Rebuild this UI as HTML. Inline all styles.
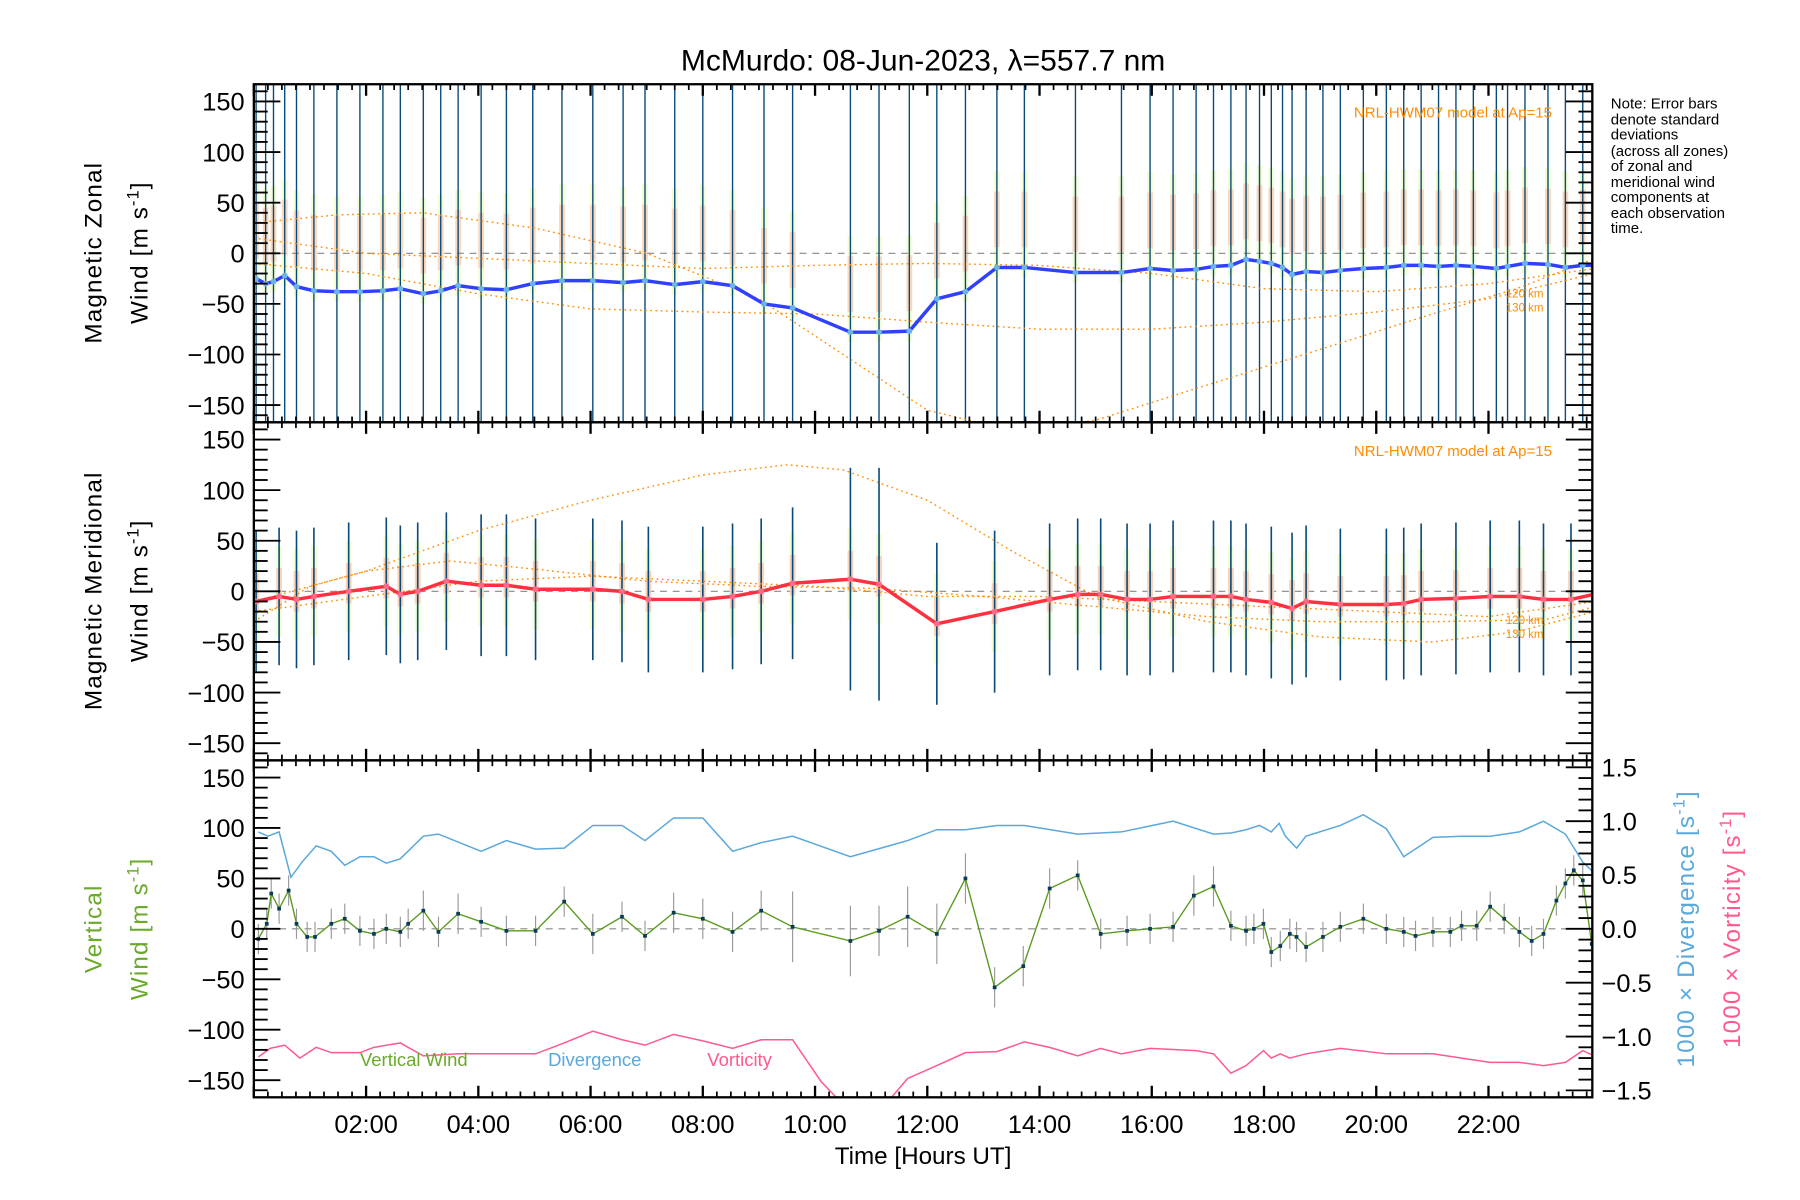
<!DOCTYPE html>
<html><head><meta charset="utf-8"><style>
html,body{margin:0;padding:0;background:#fff;width:1800px;height:1200px;overflow:hidden}
svg text{font-family:"Liberation Sans",sans-serif}
</style></head><body>
<svg id="chart" width="1800" height="1200" viewBox="0 0 1560 1040" preserveAspectRatio="none" xmlns="http://www.w3.org/2000/svg">
<rect width="1560" height="1040" fill="#fff"/>
<text x="800" y="61" font-size="26" text-anchor="middle">McMurdo: 08-Jun-2023, λ=557.7 nm</text>
<g id="g"></g>
<text transform="translate(88,219) rotate(-90)" font-size="21" text-anchor="middle" letter-spacing="1">Magnetic Zonal</text>
<text transform="translate(128,219) rotate(-90)" font-size="21" text-anchor="middle" letter-spacing="1">Wind [m s<tspan font-size="14" dy="-8">-1</tspan><tspan dy="8">]</tspan></text>
<text transform="translate(88,512) rotate(-90)" font-size="21" text-anchor="middle" letter-spacing="1">Magnetic Meridional</text>
<text transform="translate(128,512) rotate(-90)" font-size="21" text-anchor="middle" letter-spacing="1">Wind [m s<tspan font-size="14" dy="-8">-1</tspan><tspan dy="8">]</tspan></text>
<text transform="translate(88,805) rotate(-90)" font-size="21" text-anchor="middle" fill="#6aaa2a" letter-spacing="1">Vertical</text>
<text transform="translate(128,805) rotate(-90)" font-size="21" text-anchor="middle" fill="#6aaa2a" letter-spacing="1">Wind [m s<tspan font-size="14" dy="-8">-1</tspan><tspan dy="8">]</tspan></text>
<text transform="translate(1468,805) rotate(-90)" font-size="21" text-anchor="middle" fill="#5aa8dc" letter-spacing="1">1000 × Divergence [s<tspan font-size="14" dy="-8">-1</tspan><tspan dy="8">]</tspan></text>
<text transform="translate(1508,805) rotate(-90)" font-size="21" text-anchor="middle" fill="#ff5a8c" letter-spacing="1">1000 × Vorticity [s<tspan font-size="14" dy="-8">-1</tspan><tspan dy="8">]</tspan></text>
<text x="800" y="1009" font-size="21" text-anchor="middle">Time [Hours UT]</text>
<g font-size="13">
<text x="1396" y="94">Note: Error bars</text><text x="1396" y="108">denote standard</text><text x="1396" y="121">deviations</text><text x="1396" y="135">(across all zones)</text><text x="1396" y="148">of zonal and</text><text x="1396" y="162">meridional wind</text><text x="1396" y="175">components at</text><text x="1396" y="189">each observation</text><text x="1396" y="202">time.</text>
</g>
<text x="1345" y="102" font-size="13" fill="#ff8c00" text-anchor="end">NRL-HWM07 model at Ap=15</text>
<text x="1345" y="395" font-size="13" fill="#ff8c00" text-anchor="end">NRL-HWM07 model at Ap=15</text>
<text x="1305" y="258" font-size="10" fill="#ff8c00">120 km</text>
<text x="1305" y="270" font-size="10" fill="#ff8c00">130 km</text>
<text x="1305" y="541" font-size="10" fill="#ff8c00">120 km</text>
<text x="1305" y="553" font-size="10" fill="#ff8c00">130 km</text>
<text x="312" y="924" font-size="16" fill="#6aaa2a">Vertical Wind</text>
<text x="475" y="924" font-size="16" fill="#5aa8dc">Divergence</text>
<text x="613" y="924" font-size="16" fill="#ff5a8c">Vorticity</text>
</svg>
<script>
const zonalTimes=[0.04,0.21,0.35,0.55,0.76,1.07,1.48,1.89,2.30,2.61,3.02,3.33,3.64,4.05,4.50,4.97,5.49,6.04,6.58,6.97,7.50,8.00,8.53,9.09,9.60,10.63,11.14,11.68,12.17,12.68,13.24,13.73,14.64,15.46,15.97,16.38,16.79,17.10,17.41,17.68,17.92,18.13,18.33,18.50,18.75,19.05,19.36,19.77,20.18,20.49,20.80,21.11,21.42,21.73,22.14,22.34,22.65,23.06,23.37,23.68,23.88];
const zonalWind=[-25,-30,-28,-22,-33,-37,-38,-38,-37,-35,-40,-37,-32,-35,-36,-30,-27,-27,-29,-27,-31,-28,-32,-50,-54,-78,-78,-77,-45,-38,-14,-14,-19,-19,-15,-17,-16,-13,-12,-6,-8,-10,-14,-21,-18,-19,-17,-15,-14,-12,-12,-13,-12,-13,-15,-13,-10,-11,-14,-12,-12];
const zonalErr=[300,300,300,300,300,300,300,300,300,300,300,300,300,300,300,300,300,300,300,300,300,300,300,300,300,300,300,300,300,300,300,300,300,300,300,300,300,300,300,300,300,300,300,300,300,300,300,300,300,300,300,300,300,300,300,300,300,300,300,300,300];
const merTimes=[0.04,0.45,0.76,1.07,1.69,2.36,2.61,2.92,3.43,4.05,4.50,5.02,6.04,6.56,7.03,8.00,8.53,9.04,9.60,10.63,11.14,12.17,13.20,14.18,14.68,15.09,15.56,15.97,16.38,17.10,17.41,17.68,18.13,18.50,18.75,19.36,20.18,20.49,20.80,21.42,22.03,22.55,22.98,23.47,23.88];
const merWind=[-10,-5,-8,-5,0,5,-3,0,10,6,6,2,2,0,-8,-8,-5,0,8,12,7,-32,-20,-8,-3,-3,-8,-8,-5,-5,-5,-8,-11,-17,-10,-13,-13,-12,-8,-7,-5,-5,-8,-8,-3];
const merErr=[70,68,68,68,68,68,68,68,68,70,70,70,70,70,72,72,72,72,75,110,115,80,80,75,75,75,75,75,75,75,75,75,75,75,75,75,75,75,75,75,75,75,75,75,75];
const vertTimes=[0.08,0.23,0.31,0.45,0.62,0.76,0.95,1.09,1.38,1.62,1.89,2.14,2.36,2.61,2.75,3.02,3.29,3.64,4.05,4.50,5.02,5.53,6.04,6.56,6.97,7.48,8.00,8.53,9.04,9.60,10.63,11.14,11.65,12.17,12.68,13.20,13.71,14.18,14.68,15.09,15.56,15.97,16.38,16.75,17.10,17.41,17.68,17.82,17.99,18.13,18.29,18.46,18.58,18.75,19.05,19.36,19.77,20.18,20.49,20.70,21.01,21.32,21.52,21.79,22.03,22.28,22.55,22.77,22.98,23.21,23.37,23.52,23.68,23.84];
const vertWind=[-10,5,35,20,38,5,-8,-8,5,10,-2,-5,0,-3,5,18,-3,15,7,-2,-2,27,-5,12,-7,16,10,-3,18,2,-12,-2,12,-5,50,-58,-37,40,53,-5,-2,0,2,33,42,3,-2,0,5,-23,-17,-5,-8,-18,-8,2,10,0,-3,-7,-3,-3,3,3,22,10,-3,-12,-5,28,45,58,48,-15];
const vertErr=[15,15,15,15,15,15,15,15,15,15,15,15,15,15,15,20,15,20,15,15,15,15,20,15,15,20,20,20,20,35,35,25,30,30,25,20,20,20,15,15,15,15,15,20,20,15,15,15,15,15,15,15,15,15,15,15,15,15,15,15,15,15,15,15,15,15,15,15,15,15,15,15,15,15];
const divTimes=[0.08,0.25,0.45,0.66,0.86,1.11,1.38,1.62,1.89,2.14,2.36,2.61,3.02,3.29,4.05,4.50,5.02,5.53,6.04,6.56,6.97,7.48,8.00,8.53,9.04,9.60,10.63,11.65,12.17,12.68,13.24,13.73,14.68,15.46,16.38,17.10,17.41,17.68,17.92,18.13,18.27,18.38,18.58,18.75,19.36,19.77,20.18,20.49,21.01,21.52,22.03,22.55,22.98,23.37,23.68,23.88];
const divergence=[0.90,0.86,0.90,0.48,0.62,0.77,0.72,0.59,0.67,0.67,0.61,0.65,0.86,0.88,0.72,0.82,0.74,0.75,0.96,0.96,0.82,1.03,1.03,0.72,0.80,0.86,0.67,0.82,0.92,0.92,0.96,0.96,0.88,0.90,1.00,0.88,0.89,0.92,0.96,0.90,0.98,0.86,0.75,0.86,0.96,1.06,0.93,0.67,0.85,0.86,0.86,0.90,1.00,0.88,0.62,0.52];
const vorTimes=[0.08,0.29,0.55,0.82,1.11,1.38,1.89,2.14,2.61,3.02,3.64,4.50,5.02,5.53,6.04,6.56,6.97,7.48,8.00,8.53,9.04,9.60,10.11,10.63,11.14,11.65,12.17,12.68,13.24,13.73,14.18,14.68,15.09,15.46,15.97,16.79,17.10,17.41,17.68,17.99,18.13,18.29,18.46,18.75,19.36,20.18,21.01,21.52,22.03,22.55,22.98,23.37,23.68,23.88];
const vorticity=[-1.19,-1.11,-1.08,-1.20,-1.10,-1.15,-1.15,-1.10,-1.06,-1.18,-1.16,-1.16,-1.16,-1.06,-0.95,-1.03,-1.08,-0.98,-1.04,-1.11,-1.03,-1.03,-1.42,-1.70,-1.70,-1.39,-1.27,-1.15,-1.14,-1.05,-1.10,-1.18,-1.11,-1.16,-1.11,-1.13,-1.16,-1.34,-1.27,-1.13,-1.20,-1.16,-1.20,-1.16,-1.11,-1.16,-1.16,-1.20,-1.24,-1.24,-1.27,-1.24,-1.13,-1.18];
const modelTimesZ=[0,2,4,6,8,10,12,14,16,18,20,22,23.9];
const zonalModelA=[-10,-20,-40,-55,-58,-60,-68,-75,-75,-68,-58,-45,-20];
const zonalModelC=[15,0,-5,-10,-15,-12,-10,-12,-20,-35,-38,-30,-15];
const zonalModelBTimes=[0,1.5,3,5,7,9,10.5,12,13.5,15,17,19,21,22.5,23.9];
const zonalModelB=[30,38,40,25,0,-45,-100,-155,-175,-165,-130,-95,-60,-35,-5];
const merModelATimes=[0,2,4,6,8,9.5,10.5,12,13.5,15,17,19,21,22.5,23.9];
const merModelA=[-10,20,60,90,115,125,120,90,40,-5,-30,-45,-50,-40,-20];
const merModelBTimes=[0,1,2,3.5,5,7,9,11,13,15,17,19,21,23,23.9];
const merModelB=[-30,5,20,30,22,10,5,3,-5,-15,-25,-30,-30,-28,-15];
const merModelC=[-20,-5,10,15,10,5,-5,-5,-10,-15,-20,-25,-10];
const xTickLabels=["02:00","04:00","06:00","08:00","10:00","12:00","14:00","16:00","18:00","20:00","22:00"];
const yTickValues=[-150,-100,-50,0,50,100,150];
const rightTickValues=[-1.5,-1.0,-0.5,0.0,0.5,1.0,1.5];

const NS="http://www.w3.org/2000/svg";
const G=document.getElementById('g');
const XL=220,XR=1380,X0=0,X1=23.85;
const x=h=>XL+(h-X0)/(X1-X0)*(XR-XL);
const P=[{t:73,b:366},{t:366,b:659},{t:659,b:951}];
const YMAX=167;
const yS=(p,v)=>{const m=(P[p].t+P[p].b)/2;return m-v/YMAX*(P[p].b-P[p].t)/2;};
const RMAX=1.5*146/140;
const yR=v=>{const m=(P[2].t+P[2].b)/2;return m-v/RMAX*(P[2].b-P[2].t)/2;};
function mk(tag,attrs,parent){const e=document.createElementNS(NS,tag);for(const k in attrs)e.setAttribute(k,attrs[k]);(parent||G).appendChild(e);return e;}
function pts(ts,vs,f){return ts.map((t,i)=>x(t).toFixed(1)+','+f(vs[i]).toFixed(1)).join(' ');}
const defs=mk('defs',{});
P.forEach((p,i)=>{const c=mk('clipPath',{id:'c'+i},defs);mk('rect',{x:XL,y:p.t,width:XR-XL,height:p.b-p.t},c);});

// panel 1 zonal
let g1=mk('g',{'clip-path':'url(#c0)'});


zonalTimes.forEach((t,i)=>{
const r0=mk('rect',{x:x(t)-2.5,y:yS(0,zonalWind[i]+95),width:5,height:yS(0,zonalWind[i]-10)-yS(0,zonalWind[i]+95),fill:'#eefcc8',opacity:0.8},g1);


const r=mk('rect',{x:x(t)-2.5,y:yS(0,zonalWind[i]+75),width:5,height:yS(0,zonalWind[i]+20)-yS(0,zonalWind[i]+75),fill:'#ffc0b0',opacity:0.6},g1);

});
mk('line',{x1:XL,x2:XR,y1:yS(0,0),y2:yS(0,0),stroke:'#888','stroke-dasharray':'6,5','stroke-width':1},g1);
zonalTimes.forEach((t,i)=>{const l=mk('line',{x1:x(t),x2:x(t),y1:yS(0,zonalWind[i]+zonalErr[i]),y2:yS(0,zonalWind[i]-zonalErr[i]),stroke:'#0a4a7a','stroke-width':1.2},g1);

});
[[modelTimesZ,zonalModelA],[zonalModelBTimes,zonalModelB],[modelTimesZ,zonalModelC]].forEach(([ts,vs])=>{const l=mk('polyline',{points:pts(ts,vs,v=>yS(0,v)),fill:'none',stroke:'#ff8c00','stroke-width':1.2,'stroke-dasharray':'1.5,3'},g1);

});
let zl=mk('polyline',{points:pts(zonalTimes,zonalWind,v=>yS(0,v)),fill:'none',stroke:'#3040ff','stroke-width':3},g1);


zonalTimes.forEach((t,i)=>{const c=mk('circle',{cx:x(t),cy:yS(0,zonalWind[i]),r:2.5,fill:'#6ab4e8'},g1);

});

// panel 2 meridional
let g2=mk('g',{'clip-path':'url(#c1)'});


mk('line',{x1:XL,x2:XR,y1:yS(1,0),y2:yS(1,0),stroke:'#888','stroke-dasharray':'6,5','stroke-width':1},g2);
merTimes.forEach((t,i)=>{
const r0=mk('rect',{x:x(t)-2.5,y:yS(1,merWind[i]+50),width:5,height:yS(1,merWind[i]-40)-yS(1,merWind[i]+50),fill:'#eefcc8',opacity:0.8},g2);


const r=mk('rect',{x:x(t)-2.5,y:yS(1,merWind[i]+28),width:5,height:yS(1,merWind[i]-12)-yS(1,merWind[i]+28),fill:'#ffb8a8',opacity:0.6},g2);


const l=mk('line',{x1:x(t),x2:x(t),y1:yS(1,merWind[i]+merErr[i]),y2:yS(1,merWind[i]-merErr[i]),stroke:'#0a4a7a','stroke-width':1.4},g2);

});
[[merModelATimes,merModelA],[merModelBTimes,merModelB],[modelTimesZ,merModelC]].forEach(([ts,vs])=>{const l=mk('polyline',{points:pts(ts,vs,v=>yS(1,v)),fill:'none',stroke:'#ff8c00','stroke-width':1.2,'stroke-dasharray':'1.5,3'},g2);

});
let ml=mk('polyline',{points:pts(merTimes,merWind,v=>yS(1,v)),fill:'none',stroke:'#ff3040','stroke-width':3},g2);


merTimes.forEach((t,i)=>{const c=mk('circle',{cx:x(t),cy:yS(1,merWind[i]),r:2.5,fill:'#ff6a8a'},g2);

});

// panel 3
let g3=mk('g',{'clip-path':'url(#c2)'});


mk('line',{x1:XL,x2:XR,y1:yS(2,0),y2:yS(2,0),stroke:'#888','stroke-dasharray':'6,5','stroke-width':1},g3);
let dl=mk('polyline',{points:pts(divTimes,divergence,yR),fill:'none',stroke:'#5aa8dc','stroke-width':1.3},g3);


let vl=mk('polyline',{points:pts(vorTimes,vorticity,yR),fill:'none',stroke:'#ff5a8c','stroke-width':1.3},g3);


vertTimes.forEach((t,i)=>{const l=mk('line',{x1:x(t),x2:x(t),y1:yS(2,vertWind[i]+vertErr[i]),y2:yS(2,vertWind[i]-vertErr[i]),stroke:'#999','stroke-width':1},g3);

});
let wl=mk('polyline',{points:pts(vertTimes,vertWind,v=>yS(2,v)),fill:'none',stroke:'#5a9a20','stroke-width':1.2},g3);


vertTimes.forEach((t,i)=>{const c=mk('rect',{x:x(t)-1.6,y:yS(2,vertWind[i])-1.6,width:3.2,height:3.2,fill:'#0a3a5a'},g3);

});

// axes
const ax=mk('g',{stroke:'#000',fill:'none'});


P.forEach((p,pi)=>{
  mk('rect',{x:XL,y:p.t,width:XR-XL,height:p.b-p.t,'stroke-width':2},ax);
  for(let h=0;h<=23.85;h+=0.25){const maj=Math.abs(h/2-Math.round(h/2))<1e-6;const L=maj?10:5;
    mk('line',{x1:x(h),x2:x(h),y1:p.b,y2:p.b-L,'stroke-width':maj?2:1.5},ax);
    mk('line',{x1:x(h),x2:x(h),y1:p.t,y2:p.t+L,'stroke-width':maj?2:1.5},ax);}
  for(let v=-160;v<=160;v+=10){const maj=v%50===0;const L=maj?23:12;const yy=yS(pi,v);
    mk('line',{x1:XL,x2:XL+L,y1:yy,y2:yy,'stroke-width':1.6},ax);
    if(pi<2)mk('line',{x1:XR,x2:XR-L,y1:yy,y2:yy,'stroke-width':1.6},ax);}
  yTickValues.forEach(v=>{const tx=mk('text',{x:XL-8,y:yS(pi,v)+8,'font-size':22,'text-anchor':'end',fill:'#000',stroke:'none'});tx.textContent=(v<0?'−':'')+Math.abs(v);
    
    });
});
for(let v=-1.5;v<=1.51;v+=0.1){const maj=Math.abs(v*2-Math.round(v*2))<1e-6;const L=maj?23:12;
  mk('line',{x1:XR,x2:XR-L,y1:yR(v),y2:yR(v),'stroke-width':1.6},ax);}
rightTickValues.forEach(v=>{const tx=mk('text',{x:XR+8,y:yR(v)+8,'font-size':22,fill:'#000',stroke:'none'});tx.textContent=(v<0?'−':'')+Math.abs(v).toFixed(1);
  
  });
xTickLabels.forEach((s,i)=>{const tx=mk('text',{x:x((i+1)*2),y:982,'font-size':22,'text-anchor':'middle',fill:'#000',stroke:'none'});tx.textContent=s;
  
  });
</script>
</body></html>
